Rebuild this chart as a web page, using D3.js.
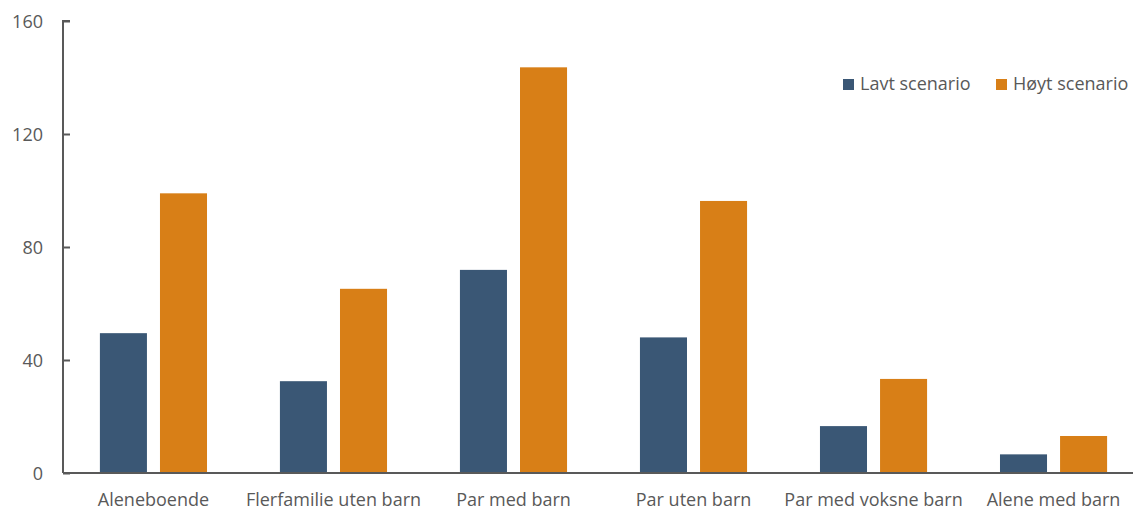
<!DOCTYPE html>
<html><head><meta charset="utf-8">
<script src="https://cdn.jsdelivr.net/npm/d3@7"></script>
<style>body{margin:0;background:#fff}text{font-family:"Open Sans",sans-serif;fill:#595959}</style>
</head><body><svg id="c" width="1135" height="511"></svg>
<script>
const categories = ["Aleneboende","Flerfamilie uten barn","Par med barn","Par uten barn","Par med voksne barn","Alene med barn"];
const seriesNames = ["Lavt scenario","Høyt scenario"];
const lavt = [49.5, 32.5, 71.9, 48.0, 16.6, 6.6];
const hoyt = [99.0, 65.2, 143.6, 96.3, 33.3, 13.1];
const yTicks = [0, 40, 80, 120, 160];
const colors = ["#3a5775", "#d87f17"];

const svg = d3.select("#c");
const m = {l: 63, r: 2, t: 21, b: 38};
const W = 1135, H = 511;
const x = d3.scaleBand().domain(categories).range([m.l, 1144]).paddingInner(0.405).paddingOuter(0.205);
const x1 = d3.scaleBand().domain(seriesNames).range([0, x.bandwidth()]).paddingInner(0.217);
const y = d3.scaleLinear().domain([0, 160]).range([H - m.b, m.t]);

const data = categories.map((c, i) => ({c, v: [lavt[i], hoyt[i]]}));
const g = svg.append("g");
data.forEach(d => {
  d.v.forEach((v, j) => {
    g.append("rect")
      .attr("x", x(d.c) + x1(seriesNames[j]))
      .attr("y", y(v))
      .attr("width", x1.bandwidth())
      .attr("height", y(0) - y(v))
      .attr("fill", colors[j]);
  });
});

// y axis
const ya = svg.append("g").attr("transform", `translate(${m.l},0)`)
  .call(d3.axisRight(y).tickValues(yTicks).tickSize(7).tickFormat(d3.format("d")));
ya.select(".domain").attr("stroke", "#595959").attr("stroke-width", 2).attr("d", `M7,${y(160)}H0V${y(0)}`);
ya.selectAll(".tick line").attr("stroke", "#595959").attr("stroke-width", 2);
ya.selectAll(".tick text").attr("x", -20).attr("text-anchor", "end").attr("dy", "0.35em")
  .style("font-size", "18px").attr("fill", "#595959");

// x axis
const xa = svg.append("g").attr("transform", `translate(0,${y(0)})`)
  .call(d3.axisBottom(x).tickSize(0));
xa.select(".domain").attr("stroke", "#595959").attr("stroke-width", 2).attr("d", `M${m.l},0H${W - m.r}`);
xa.selectAll(".tick text").attr("y", 20).attr("dy", "0.71em").style("font-size", "18px").attr("fill", "#595959");

// legend
const lg = svg.append("g");
const lx = [843, 996];
seriesNames.forEach((s, j) => {
  lg.append("rect").attr("x", lx[j]).attr("y", 79).attr("width", 11).attr("height", 11).attr("fill", colors[j]);
  lg.append("text").attr("x", lx[j] + 17).attr("y", 84).attr("dy", "0.35em").style("font-size", "18px").text(s);
});
</script></body></html>
